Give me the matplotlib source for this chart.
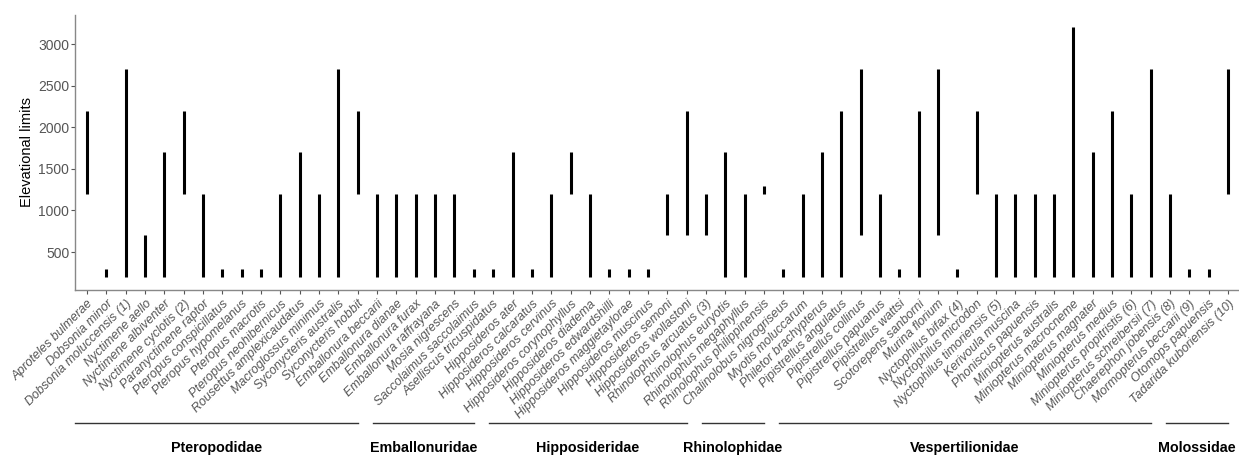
import matplotlib.pyplot as plt
import numpy as np

plt.rcParams['font.family'] = ['Liberation Sans', 'DejaVu Sans']

species = [
    "Aproteles bulmerae", "Dobsonia minor", "Dobsonia moluccensis (1)", "Nyctimene aello",
    "Nyctimene albiventer", "Nyctimene cyclotis (2)", "Paranyctimene raptor",
    "Pteropus conspicillatus", "Pteropus hypomelanus", "Pteropus macrotis",
    "Pteropus neohibernicus", "Rousettus amplexicaudatus", "Macroglossus minimus",
    "Syconycteris australis", "Syconycteris hobbit",
    "Emballonura beccarii", "Emballonura dianae", "Emballonura furax",
    "Emballonura raffrayana", "Mosia nigrescens", "Saccolaimus saccolaimus",
    "Aselliscus tricuspidatus", "Hipposideros ater", "Hipposideros calcaratus",
    "Hipposideros cervinus", "Hipposideros corynophyllus", "Hipposideros diadema",
    "Hipposideros edwardshilli", "Hipposideros maggietaylorae", "Hipposideros muscinus",
    "Hipposideros semoni", "Hipposideros wollastoni",
    "Rhinolophus arcuatus (3)", "Rhinolophus euryotis", "Rhinolophus megaphyllus",
    "Rhinolophus philippinensis",
    "Chalinolobus nigrogriseus", "Myotis moluccarum", "Philetor brachypterus",
    "Pipistrellus angulatus", "Pipistrellus collinus", "Pipistrellus papuanus",
    "Pipistrellus wattsi", "Scotorepens sanborni", "Murina florium",
    "Nyctophilus bifax (4)", "Nyctophilus microdon", "Nyctophilus timoriensis (5)",
    "Kerivoula muscina", "Phoniscus papuensis", "Miniopterus australis",
    "Miniopterus macrocneme", "Miniopterus magnater", "Miniopterus medius",
    "Miniopterus propitristis (6)", "Miniopterus schreibersii (7)",
    "Chaerephon jobensis (8)", "Mormopterus beccarii (9)", "Otomops papuensis",
    "Tadarida kuboriensis (10)",
]

lower = [1200, 200, 200, 200, 200, 1200, 200, 200, 200, 200, 200, 200, 200, 200, 1200,
         200, 200, 200, 200, 200, 200,
         200, 200, 200, 200, 1200, 200, 200, 200, 200, 700, 700,
         700, 200, 200, 1200,
         200, 200, 200, 200, 700, 200, 200, 200, 700, 200, 1200, 200, 200, 200, 200,
         200, 200, 200, 200, 200,
         200, 200, 200, 1200]

upper = [2200, 300, 2700, 700, 1700, 2200, 1200, 300, 300, 300, 1200, 1700, 1200, 2700, 2200,
         1200, 1200, 1200, 1200, 1200, 300,
         300, 1700, 300, 1200, 1700, 1200, 300, 300, 300, 1200, 2200,
         1200, 1700, 1200, 1300,
         300, 1200, 1700, 2200, 2700, 1200, 300, 2200, 2700, 300, 2200, 1200, 1200, 1200, 1200,
         3200, 1700, 2200, 1200, 2700,
         1200, 300, 300, 2700]

families = ["Pteropodidae", "Emballonuridae", "Hipposideridae", "Rhinolophidae",
            "Vespertilionidae", "Molossidae"]
family_sizes = [15, 6, 11, 4, 20, 4]

x = np.arange(1, len(species) + 1)

fig = plt.figure(figsize=(12.39, 4.57), dpi=100)
ax = fig.add_axes([0.0609, 0.3665, 0.9396, 0.6007])

ax.vlines(x, lower, upper, color='black', linewidth=2.2)

ax.set_xlim(0.4, len(species) + 0.6)
ax.set_ylim(50, 3350)
ax.set_yticks([500, 1000, 1500, 2000, 2500, 3000])
ax.set_xticks(x)
ax.set_xticklabels(species, rotation=45, ha='right', rotation_mode='anchor',
                   fontsize=9.0, style='italic', color='#555555')
ax.tick_params(axis='y', labelsize=10, labelcolor='#555555', color='#555555',
               length=3, pad=1.5)
ax.tick_params(axis='x', color='#555555', length=3, pad=3)
ax.set_ylabel("Elevational limits", fontsize=10.5, labelpad=3)

for side in ['top', 'right']:
    ax.spines[side].set_visible(False)
for side in ['left', 'bottom']:
    ax.spines[side].set_color('#888888')
    ax.spines[side].set_linewidth(1.0)

# family brackets under the species names
trans = ax.get_xaxis_transform()
first = 1
for name, n in zip(families, family_sizes):
    last = first + n - 1
    start = 0.4 if first == 1 else first - 0.2
    ax.plot([start, last], [-0.486, -0.486], transform=trans, color='#333333',
            linewidth=1.0, clip_on=False)
    ax.text((start + last) / 2, -0.577, name, transform=trans, ha='center', va='center',
            fontsize=10.3, fontweight='bold', color='black')
    first = last + 1

fig.savefig("out.png", dpi=100)
